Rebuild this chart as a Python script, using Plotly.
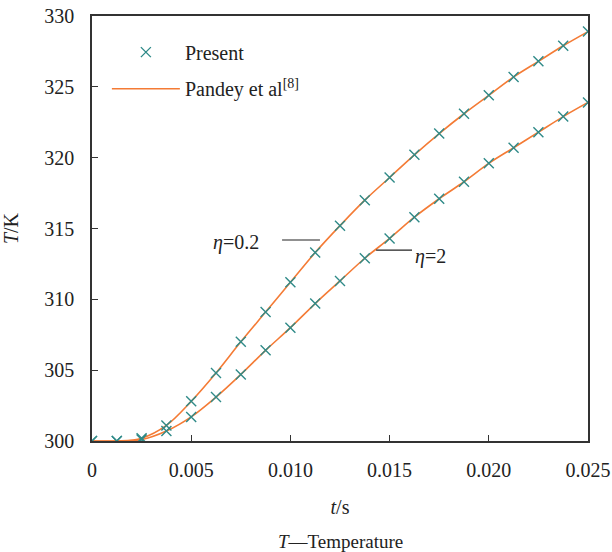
import plotly.graph_objects as go

t = [0, 0.00125, 0.0025, 0.00375, 0.005, 0.00625, 0.0075, 0.00875, 0.01, 0.01125,
     0.0125, 0.01375, 0.015, 0.01625, 0.0175, 0.01875, 0.02, 0.02125, 0.0225, 0.02375, 0.025]

present_eta02 = [300.0, 300.0, 300.2, 301.1, 302.8, 304.8, 307.0, 309.1, 311.2, 313.3,
                 315.2, 317.0, 318.6, 320.2, 321.7, 323.1, 324.4, 325.7, 326.8, 327.9, 328.9]
present_eta2 = [300.0, 300.0, 300.1, 300.7, 301.7, 303.1, 304.7, 306.4, 308.0, 309.7,
                311.3, 312.9, 314.3, 315.8, 317.1, 318.3, 319.6, 320.7, 321.8, 322.9, 323.9]

pandey_eta02 = [300.0, 300.0, 300.2, 301.1, 302.8, 304.8, 307.0, 309.1, 311.2, 313.3,
                315.2, 317.0, 318.6, 320.2, 321.7, 323.1, 324.4, 325.7, 326.8, 327.9, 328.9]
pandey_eta2 = [300.0, 300.0, 300.1, 300.7, 301.7, 303.1, 304.7, 306.4, 308.0, 309.7,
               311.3, 312.9, 314.3, 315.8, 317.1, 318.3, 319.6, 320.7, 321.8, 322.9, 323.9]

x_ticks = [0, 0.005, 0.010, 0.015, 0.020, 0.025]
x_ticklabels = ["0", "0.005", "0.010", "0.015", "0.020", "0.025"]
y_ticks = [300, 305, 310, 315, 320, 325, 330]

ORANGE = "#f47b35"
TEAL = "#2f8a88"
FONT = "Liberation Serif, Times New Roman, serif"
FS = 20

fig = go.Figure()

fig.add_trace(go.Scatter(x=t, y=pandey_eta02, mode="lines", name="Pandey et al<sup>[8]</sup>",
                         line=dict(color=ORANGE, width=1.6, shape="spline"), legend="legend2"))
fig.add_trace(go.Scatter(x=t, y=pandey_eta2, mode="lines", showlegend=False,
                         line=dict(color=ORANGE, width=1.6, shape="spline")))
fig.add_trace(go.Scatter(x=t, y=present_eta02, mode="markers", name="Present",
                         marker=dict(symbol="x-thin-open", size=10, color=TEAL,
                                     line=dict(color=TEAL, width=1.4)), legend="legend"))
fig.add_trace(go.Scatter(x=t, y=present_eta2, mode="markers", showlegend=False,
                         marker=dict(symbol="x-thin-open", size=10, color=TEAL,
                                     line=dict(color=TEAL, width=1.4))))

# annotation leader lines
fig.add_shape(type="line", xref="x", yref="y", x0=0.00958, x1=0.01149, y0=314.19, y1=314.19,
              line=dict(color="#222", width=1.2))
fig.add_shape(type="line", xref="x", yref="y", x0=0.01432, x1=0.01613, y0=313.48, y1=313.48,
              line=dict(color="#222", width=1.2))
fig.add_annotation(x=0.00852, y=314.0, xref="x", yref="y", text="<i>η</i>=0.2", showarrow=False,
                   xanchor="right", font=dict(family=FONT, size=FS, color="#222"))
fig.add_annotation(x=0.01618, y=313.05, xref="x", yref="y", text="<i>η</i>=2", showarrow=False,
                   xanchor="left", font=dict(family=FONT, size=FS, color="#222"))

fig.add_annotation(x=0.5, y=-(541 - 441) / 425, xref="paper", yref="paper", yanchor="middle",
                   text="<i>T</i>—Temperature", showarrow=False,
                   font=dict(family=FONT, size=19, color="#222"))

leg_common = dict(xanchor="left", yanchor="middle", bgcolor="rgba(0,0,0,0)",
                  font=dict(family=FONT, size=FS, color="#222"), itemwidth=68)

fig.update_layout(
    width=612, height=552,
    margin=dict(l=92, r=24, t=16, b=111, autoexpand=False),
    paper_bgcolor="white", plot_bgcolor="white",
    font=dict(family=FONT, size=FS, color="#222"),
    showlegend=True,
    legend=dict(x=0.030, y=0.915, **leg_common),
    legend2=dict(x=0.030, y=0.829, **leg_common),
    xaxis=dict(range=[0, 0.025], tickvals=x_ticks, ticktext=x_ticklabels,
               ticks="inside", ticklen=6, tickcolor="#333", tickwidth=1.3,
               showline=True, linecolor="#333", linewidth=1.5, mirror=True,
               showgrid=False, zeroline=False, ticklabelstandoff=10,
               automargin=False, ticklabeloverflow="allow",
               title=dict(text="<i>t</i>/s", standoff=20, font=dict(family=FONT, size=FS)),
               tickfont=dict(family=FONT, size=FS)),
    yaxis=dict(range=[300, 330], tickvals=y_ticks,
               ticks="inside", ticklen=6, tickcolor="#333", tickwidth=1.3,
               showline=True, linecolor="#333", linewidth=1.5, mirror=True,
               showgrid=False, zeroline=False, ticklabelstandoff=12,
               automargin=False, ticklabeloverflow="allow",
               title=dict(text="<i>T</i>/K", standoff=21, font=dict(family=FONT, size=FS)),
               tickfont=dict(family=FONT, size=FS)),
)

fig.write_html("out.html", config={"displayModeBar": False},
               post_script="document.body.style.margin='0';document.body.style.overflow='hidden';")
